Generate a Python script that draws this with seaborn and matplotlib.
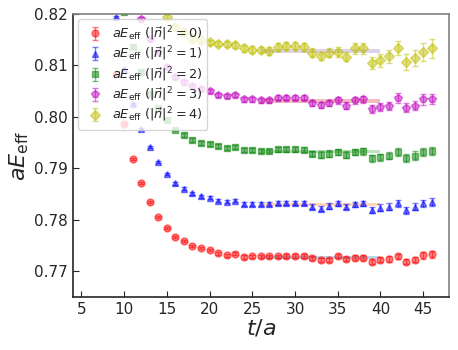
import matplotlib
matplotlib.use('Agg')
import matplotlib.pyplot as plt
import seaborn as sns
import numpy as np

# effective energies vs t/a for five momenta
t_n0 = list(range(9, 47))
E_n0 = [0.8083, 0.7986, 0.7919, 0.7872, 0.7834, 0.7806, 0.7784, 0.7766, 0.7759, 0.7749,
        0.7745, 0.7741, 0.7735, 0.7731, 0.7734, 0.7728, 0.7729, 0.7729, 0.7729, 0.7729,
        0.7730, 0.7730, 0.7730, 0.7726, 0.7723, 0.7723, 0.7730, 0.7724, 0.7727, 0.7727,
        0.7719, 0.7723, 0.7724, 0.7729, 0.7719, 0.7723, 0.7731, 0.7733]
err_n0 = [0.0002, 0.0002, 0.0002, 0.0002, 0.0002, 0.0002, 0.0002, 0.0002, 0.0002, 0.0002,
          0.0002, 0.0002, 0.0003, 0.0003, 0.0003, 0.0003, 0.0003, 0.0003, 0.0003, 0.0003,
          0.0003, 0.0003, 0.0003, 0.0003, 0.0004, 0.0004, 0.0004, 0.0004, 0.0004, 0.0004,
          0.0005, 0.0005, 0.0005, 0.0005, 0.0005, 0.0005, 0.0006, 0.0006]

t_n1 = list(range(9, 47))
E_n1 = [0.8194, 0.8093, 0.8025, 0.7977, 0.7941, 0.7912, 0.7889, 0.7871, 0.7861, 0.7852,
        0.7846, 0.7843, 0.7837, 0.7835, 0.7837, 0.7831, 0.7831, 0.7831, 0.7831, 0.7833,
        0.7833, 0.7833, 0.7833, 0.7826, 0.7822, 0.7827, 0.7832, 0.7826, 0.7830, 0.7832,
        0.7819, 0.7824, 0.7826, 0.7832, 0.7819, 0.7826, 0.7832, 0.7835]
err_n1 = [0.0002, 0.0002, 0.0002, 0.0002, 0.0002, 0.0002, 0.0002, 0.0003, 0.0003, 0.0003,
          0.0003, 0.0003, 0.0003, 0.0003, 0.0003, 0.0003, 0.0004, 0.0004, 0.0004, 0.0004,
          0.0004, 0.0004, 0.0004, 0.0004, 0.0005, 0.0005, 0.0005, 0.0005, 0.0005, 0.0005,
          0.0006, 0.0006, 0.0006, 0.0006, 0.0007, 0.0007, 0.0007, 0.0007]

t_n2 = list(range(10, 47))
E_n2 = [0.8203, 0.8136, 0.8087, 0.8044, 0.8017, 0.7995, 0.7975, 0.7965, 0.7956, 0.7949,
        0.7947, 0.7944, 0.7939, 0.7941, 0.7936, 0.7936, 0.7934, 0.7934, 0.7937, 0.7937,
        0.7937, 0.7936, 0.7929, 0.7927, 0.7929, 0.7932, 0.7927, 0.7932, 0.7933, 0.7920,
        0.7922, 0.7925, 0.7932, 0.7920, 0.7925, 0.7932, 0.7934]
err_n2 = [0.0003, 0.0003, 0.0003, 0.0003, 0.0003, 0.0003, 0.0003, 0.0003, 0.0004, 0.0004,
          0.0004, 0.0004, 0.0004, 0.0004, 0.0004, 0.0004, 0.0004, 0.0004, 0.0005, 0.0005,
          0.0005, 0.0005, 0.0005, 0.0006, 0.0006, 0.0006, 0.0006, 0.0006, 0.0006, 0.0007,
          0.0007, 0.0007, 0.0007, 0.0008, 0.0008, 0.0008, 0.0008]

t_n3 = list(range(12, 47))
E_n3 = [0.8191, 0.8151, 0.8127, 0.8098, 0.8078, 0.8067, 0.8061, 0.8054, 0.8050, 0.8042,
        0.8041, 0.8043, 0.8034, 0.8034, 0.8032, 0.8032, 0.8037, 0.8037, 0.8037, 0.8037,
        0.8027, 0.8024, 0.8027, 0.8032, 0.8022, 0.8032, 0.8034, 0.8015, 0.8020, 0.8022,
        0.8037, 0.8018, 0.8022, 0.8034, 0.8035]
err_n3 = [0.0003, 0.0003, 0.0003, 0.0003, 0.0004, 0.0004, 0.0004, 0.0004, 0.0004, 0.0004,
          0.0004, 0.0004, 0.0005, 0.0005, 0.0005, 0.0005, 0.0005, 0.0005, 0.0005, 0.0005,
          0.0006, 0.0006, 0.0006, 0.0007, 0.0007, 0.0007, 0.0007, 0.0008, 0.0008, 0.0008,
          0.0009, 0.0009, 0.0009, 0.0010, 0.0010]

t_n4 = list(range(15, 47))
E_n4 = [0.8194, 0.8175, 0.8165, 0.8152, 0.8149, 0.8145, 0.8142, 0.8142, 0.8140, 0.8133,
        0.8131, 0.8130, 0.8128, 0.8136, 0.8138, 0.8138, 0.8136, 0.8125, 0.8118, 0.8125,
        0.8126, 0.8117, 0.8133, 0.8133, 0.8105, 0.8110, 0.8118, 0.8134, 0.8107, 0.8115,
        0.8126, 0.8133]
err_n4 = [0.0004, 0.0004, 0.0005, 0.0005, 0.0005, 0.0005, 0.0005, 0.0006, 0.0006, 0.0006,
          0.0006, 0.0006, 0.0007, 0.0007, 0.0007, 0.0007, 0.0007, 0.0008, 0.0008, 0.0009,
          0.0009, 0.0009, 0.0010, 0.0010, 0.0012, 0.0012, 0.0013, 0.0014, 0.0015, 0.0016,
          0.0017, 0.0018]

# plateau fits
fit_range = [26, 40]
fit_E = [0.7727, 0.7830, 0.7933, 0.8031, 0.8128]
fit_err = [0.0003, 0.0003, 0.0003, 0.0004, 0.0004]

labels = [r'$aE_{\rm eff}\ (|\vec{n}|^2=%d)$' % i for i in range(5)]

sns.set_style('ticks')
plt.rcParams['font.family'] = ['DejaVu Sans']
plt.rcParams['xtick.direction'] = 'in'
plt.rcParams['ytick.direction'] = 'in'

fig = plt.figure(figsize=(4.58, 3.5), dpi=100)
ax = fig.add_axes([0.159, 0.151, 0.821, 0.809])

band_colors = sns.color_palette('tab10', 5)
for i in range(5):
    ax.fill_between(fit_range, fit_E[i] - fit_err[i], fit_E[i] + fit_err[i],
                    color=band_colors[i], alpha=0.3, lw=0, zorder=1)

series = [(t_n0, E_n0, err_n0, 'r', 'o', 5),
          (t_n1, E_n1, err_n1, 'b', '^', 5),
          (t_n2, E_n2, err_n2, 'g', 's', 5),
          (t_n3, E_n3, err_n3, 'm', 'p', 5.5),
          (t_n4, E_n4, err_n4, 'y', 'D', 5)]
for (t, E, err, c, m, ms), lab in zip(series, labels):
    ax.errorbar(t, E, yerr=err, fmt=m, color=c, ms=ms, alpha=0.5, capsize=2,
                elinewidth=1, label=lab, zorder=2)

ax.set_xlim(4, 48)
ax.set_ylim(0.765, 0.82)
ax.set_xticks(range(5, 46, 5))
ax.set_yticks([0.77, 0.78, 0.79, 0.80, 0.81, 0.82])
ax.set_yticklabels(['0.77', '0.78', '0.79', '0.80', '0.81', '0.82'])
ax.tick_params(labelsize=11, length=4)
ax.set_xlabel(r'$t/a$', fontsize=16, labelpad=0)
ax.set_ylabel(r'$aE_{\rm eff}$', fontsize=16, labelpad=2)
for s in ['top', 'right']:
    ax.spines[s].set_color('gray')
for s in ax.spines.values():
    s.set_linewidth(1.2)

ax.legend(loc='upper left', fontsize=9.3, framealpha=0.8, handletextpad=0.4,
          borderaxespad=0.4, labelspacing=0.15, handlelength=1.8, borderpad=0.4)

fig.savefig('out.png', dpi=100)
